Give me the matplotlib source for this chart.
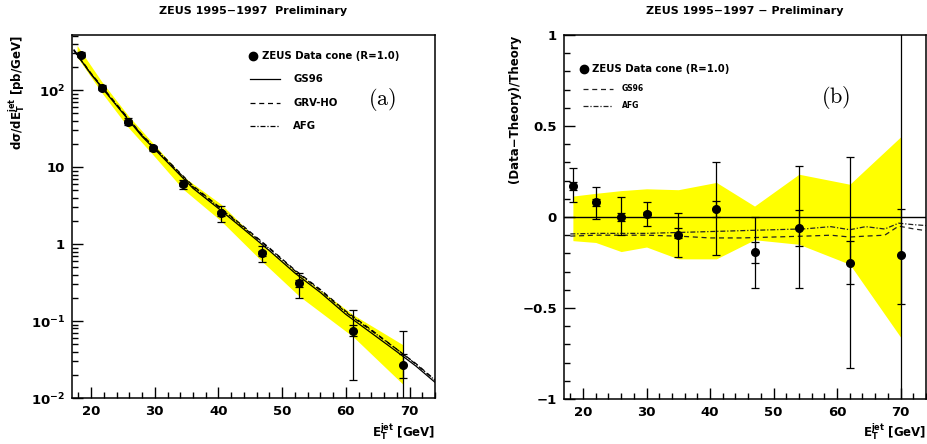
import numpy as np
import matplotlib
matplotlib.use("Agg")
import matplotlib.pyplot as plt
from matplotlib.ticker import MultipleLocator, LogLocator, NullFormatter

plt.rcParams['font.family'] = ['DejaVu Sans']
plt.rcParams['font.weight'] = 'bold'
plt.rcParams['mathtext.fontset'] = 'custom'
plt.rcParams['mathtext.rm'] = 'DejaVu Sans:bold'
plt.rcParams['mathtext.it'] = 'DejaVu Sans:bold'
plt.rcParams['mathtext.bf'] = 'DejaVu Sans:bold'
plt.rcParams['mathtext.default'] = 'rm'

# ---------------- panel (a): cross section ----------------
et_a = [18.4, 21.7, 25.8, 29.7, 34.4, 40.4, 46.8, 52.7, 61.2, 69.0]
xs_a = [290, 108, 39, 17.5, 6.0, 2.5, 0.76, 0.31, 0.075, 0.027]
stat_lo_a = [280, 104, 37, 16.9, 5.7, 2.3, 0.70, 0.28, 0.063, 0.018]
stat_hi_a = [300, 112, 41, 18.1, 6.3, 2.7, 0.82, 0.34, 0.089, 0.037]
tot_lo_a = [270, 100, 35.5, 16.3, 5.2, 1.95, 0.59, 0.20, 0.017, 0.005]
tot_hi_a = [310, 116, 43, 18.7, 6.8, 3.1, 0.93, 0.42, 0.14, 0.075]

band_x_a = [17.8, 21.7, 25.8, 29.7, 34.4, 40.4, 46.8, 52.7, 61.2, 69.0]
band_hi_a = [380, 128, 47, 20.5, 7.6, 3.3, 1.0, 0.40, 0.12, 0.049]
band_lo_a = [270, 92, 33, 14.5, 5.2, 2.0, 0.60, 0.21, 0.062, 0.015]

th_x = [17.3, 20, 22, 25, 28, 30, 33, 36, 40, 44, 48, 52, 56, 60, 64, 68, 71, 74]
gs96_a = [330, 160, 100, 50, 25, 17, 9.5, 5.3, 2.9, 1.55, 0.82, 0.42, 0.235, 0.122,
          0.070, 0.040, 0.026, 0.016]
grv_a = [335, 165, 104, 52, 26.2, 17.9, 10.1, 5.7, 3.1, 1.68, 0.89, 0.46, 0.257, 0.134,
         0.077, 0.043, 0.028, 0.0172]
afg_a = [325, 162, 102, 51, 25.8, 17.6, 9.9, 5.55, 3.05, 1.63, 0.87, 0.45, 0.25, 0.13,
         0.075, 0.043, 0.0275, 0.017]

ytick_vals_a = [0.01, 0.1, 1, 10, 100]
ytick_labels_a = ['10$^{-2}$', '10$^{-1}$', '1', '10', '10$^{2}$']

# ---------------- panel (b): (Data-Theory)/Theory ----------------
et_b = [18.4, 22, 26, 30, 35, 41, 47, 54, 62, 70]
rel_b = [0.17, 0.08, 0.0, 0.015, -0.10, 0.045, -0.19, -0.06, -0.25, -0.21]
stat_hi_b = [0.19, 0.10, 0.02, 0.03, -0.06, 0.09, -0.14, 0.04, -0.13, 0.045]
stat_lo_b = [0.15, 0.06, -0.02, 0.0, -0.115, 0.0, -0.25, -0.16, -0.37, -0.48]
tot_hi_b = [0.27, 0.165, 0.11, 0.08, 0.02, 0.30, 0.0, 0.28, 0.33, 1.5]
tot_lo_b = [0.08, -0.01, -0.10, -0.05, -0.22, -0.21, -0.39, -0.39, -0.83, -1.5]

band_hi_b = [0.115, 0.13, 0.145, 0.155, 0.15, 0.19, 0.06, 0.235, 0.18, 0.44]
band_lo_b = [-0.13, -0.14, -0.19, -0.165, -0.23, -0.23, -0.125, -0.15, -0.26, -0.66]

th_x_b = [18, 22, 26, 30, 35, 40, 45, 50, 55, 59, 62, 64.5, 67.5, 69.7, 72, 74]
gs96_b = [-0.105, -0.10, -0.10, -0.10, -0.105, -0.115, -0.115, -0.11, -0.105, -0.10,
          -0.11, -0.105, -0.10, -0.05, -0.065, -0.075]
afg_b = [-0.093, -0.09, -0.09, -0.09, -0.085, -0.08, -0.075, -0.07, -0.065, -0.053,
         -0.07, -0.053, -0.066, -0.034, -0.042, -0.047]

W, H = 927, 444
fig = plt.figure(figsize=(W / 100, H / 100), dpi=100)

def frac(x0, y0, x1, y1):
    return [x0 / W, 1 - y1 / H, (x1 - x0) / W, (y1 - y0) / H]

ax = fig.add_axes(frac(72, 35, 435, 398))
bx = fig.add_axes(frac(564, 35, 926, 399))

for a in (ax, bx):
    for s in a.spines.values():
        s.set_linewidth(1.1)
    a.tick_params(which='both', direction='in', top=False, right=False,
                  labelsize=9.5, width=1.0, pad=5)
    a.tick_params(which='major', length=8)
    a.tick_params(which='minor', length=4)
    a.set_xlim(17, 74)
    a.set_xticks([20, 30, 40, 50, 60, 70])
    a.xaxis.set_minor_locator(MultipleLocator(2))

# panel (a)
ax.set_yscale('log')
ax.set_ylim(0.01, 520)
ax.set_yticks(ytick_vals_a)
ax.set_yticklabels(ytick_labels_a)
ax.yaxis.set_minor_locator(LogLocator(base=10, subs=np.arange(2, 10)))
ax.yaxis.set_minor_formatter(NullFormatter())

ax.fill_between(band_x_a, band_lo_a, band_hi_a, color='#ffff00', lw=0, zorder=1)
ax.plot(th_x, gs96_a, color='black', lw=0.9, zorder=2)
ax.plot(th_x, grv_a, color='black', lw=0.9, dashes=(4, 3), zorder=2)
ax.plot(th_x, afg_a, color='black', lw=0.9, dashes=(4, 1.5, 1, 1.5), zorder=2)
xa = np.array(xs_a)
ax.errorbar(et_a, xa, yerr=[xa - np.array(tot_lo_a), np.array(tot_hi_a) - xa],
            fmt='none', ecolor='black', elinewidth=0.9, capsize=3, capthick=0.9, zorder=3)
ax.errorbar(et_a, xa, yerr=[xa - np.array(stat_lo_a), np.array(stat_hi_a) - xa],
            fmt='none', ecolor='black', elinewidth=0.9, capsize=3, capthick=0.9, zorder=3)
ax.plot(et_a, xs_a, 'o', color='black', ms=5.5, zorder=4)

# legend (a)
ax.plot([0.499], [0.942], 'o', color='black', ms=6, transform=ax.transAxes)
ax.text(0.523, 0.942, 'ZEUS Data cone (R=1.0)', transform=ax.transAxes,
        fontsize=7.3, va='center')
leg_a = [('GS96', None, 0.879), ('GRV-HO', (4, 3), 0.813), ('AFG', (4, 1.5, 1, 1.5), 0.749)]
for lab, ds, yy in leg_a:
    ln, = ax.plot([0.49, 0.573], [yy, yy], color='black', lw=0.9, transform=ax.transAxes)
    if ds is not None:
        ln.set_dashes(ds)
    ax.text(0.609, yy, lab, transform=ax.transAxes, fontsize=7.3, va='center')
ax.text(0.854, 0.821, r'$\mathrm{(a)}$', transform=ax.transAxes, fontsize=16,
        ha='center', va='center', math_fontfamily='cm')

# panel (b)
bx.set_ylim(-1, 1)
bx.set_yticks([-1, -0.5, 0, 0.5, 1])
bx.set_yticklabels(['\u22121', '\u22120.5', '0', '0.5', '1'])
bx.yaxis.set_minor_locator(MultipleLocator(0.1))

bx.fill_between(et_b, band_lo_b, band_hi_b, color='#ffff00', lw=0, zorder=1)
bx.axhline(0, color='black', lw=1.0, zorder=2)
bx.plot(th_x_b, gs96_b, color='#222222', lw=0.9, dashes=(4, 3), zorder=2)
bx.plot(th_x_b, afg_b, color='#222222', lw=0.9, dashes=(4, 1.5, 1, 1.5), zorder=2)
rb = np.array(rel_b)
bx.errorbar(et_b, rb, yerr=[rb - np.array(tot_lo_b), np.array(tot_hi_b) - rb],
            fmt='none', ecolor='black', elinewidth=0.9, capsize=3, capthick=0.9, zorder=3)
bx.errorbar(et_b, rb, yerr=[rb - np.array(stat_lo_b), np.array(stat_hi_b) - rb],
            fmt='none', ecolor='black', elinewidth=0.9, capsize=3, capthick=0.9, zorder=3)
bx.plot(et_b, rel_b, 'o', color='black', ms=5.5, zorder=4)

# legend (b)
bx.plot([0.055], [0.907], 'o', color='black', ms=6, transform=bx.transAxes)
bx.text(0.078, 0.907, 'ZEUS Data cone (R=1.0)', transform=bx.transAxes,
        fontsize=7.3, va='center')
leg_b = [('GS96', (4, 3), 0.852), ('AFG', (4, 1.5, 1, 1.5), 0.805)]
for lab, ds, yy in leg_b:
    bx.plot([0.052, 0.135], [yy, yy], color='#222222', lw=0.9, dashes=ds,
            transform=bx.transAxes)
    bx.text(0.160, yy, lab, transform=bx.transAxes, fontsize=5.5, va='center')
bx.text(0.751, 0.827, r'$\mathrm{(b)}$', transform=bx.transAxes, fontsize=16,
        ha='center', va='center', math_fontfamily='cm')

# titles and axis labels
fig.text(253 / W, 1 - 11 / H, 'ZEUS 1995\u22121997  Preliminary', ha='center',
         va='center', fontsize=8)
fig.text(745 / W, 1 - 11 / H, 'ZEUS 1995\u22121997 \u2212 Preliminary', ha='center',
         va='center', fontsize=8)
fig.text(17 / W, 1 - 35 / H, r'd$\sigma$/dE$_{T}^{jet}$ [pb/GeV]', rotation=90,
         ha='center', va='top', fontsize=8.5)
fig.text(515 / W, 1 - 35 / H, '(Data\u2212Theory)/Theory', rotation=90,
         ha='center', va='top', fontsize=8.5)
fig.text(435 / W, 1 - 432 / H, r'E$_{T}^{jet}$ [GeV]', ha='right', va='center',
         fontsize=8.5)
fig.text(926 / W, 1 - 432 / H, r'E$_{T}^{jet}$ [GeV]', ha='right', va='center',
         fontsize=8.5)

fig.savefig('out.png', dpi=100)
